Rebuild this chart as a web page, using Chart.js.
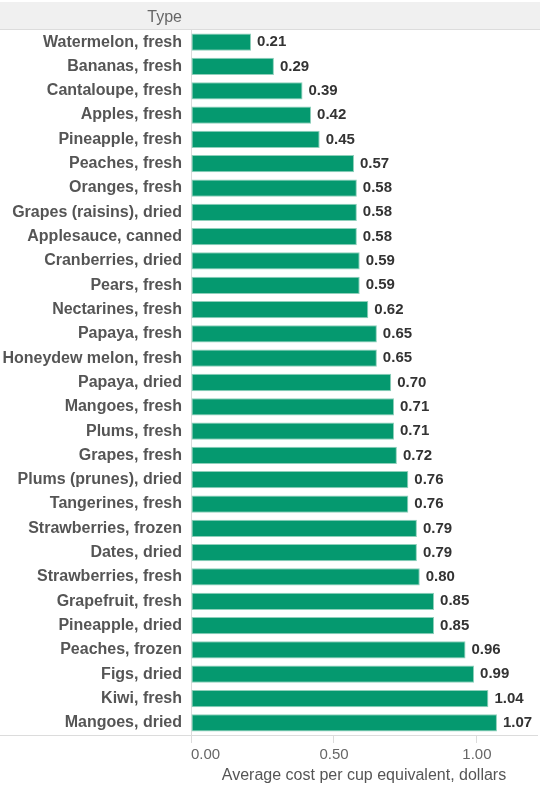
<!DOCTYPE html>
<html>
<head>
<meta charset="utf-8">
<script src="https://cdn.jsdelivr.net/npm/chart.js@4.4.1/dist/chart.umd.min.js"></script>
<style>
  html, body { margin: 0; padding: 0; background: #fff; }
  #chart-container { width: 540px; height: 785px; }
</style>
</head>
<body>
<div id="chart-container"><canvas id="fruit-canvas" width="540" height="785"></canvas></div>
<script>
'use strict';

var fruitTypes = [
  'Watermelon, fresh', 'Bananas, fresh', 'Cantaloupe, fresh', 'Apples, fresh',
  'Pineapple, fresh', 'Peaches, fresh', 'Oranges, fresh', 'Grapes (raisins), dried',
  'Applesauce, canned', 'Cranberries, dried', 'Pears, fresh', 'Nectarines, fresh',
  'Papaya, fresh', 'Honeydew melon, fresh', 'Papaya, dried', 'Mangoes, fresh',
  'Plums, fresh', 'Grapes, fresh', 'Plums (prunes), dried', 'Tangerines, fresh',
  'Strawberries, frozen', 'Dates, dried', 'Strawberries, fresh', 'Grapefruit, fresh',
  'Pineapple, dried', 'Peaches, frozen', 'Figs, dried', 'Kiwi, fresh', 'Mangoes, dried'
];
var costPerCup = [
  0.21, 0.29, 0.39, 0.42, 0.45, 0.57, 0.58, 0.58, 0.58, 0.59, 0.59, 0.62, 0.65, 0.65,
  0.70, 0.71, 0.71, 0.72, 0.76, 0.76, 0.79, 0.79, 0.80, 0.85, 0.85, 0.96, 0.99, 1.04, 1.07
];
var xTickValues = [0, 0.5, 1];
var xMax = 1.21;
var xAxisTitle = 'Average cost per cup equivalent, dollars';
var headerText = 'Type';

var fontFamily = '"Liberation Sans", Arial, sans-serif';
var lineColor = '#dcdcdc';

// gray header band with "Type" and the extra lines Tableau draws
var headerPlugin = {
  id: 'header',
  beforeDraw: function(chart) {
    var ctx = chart.ctx;
    var area = chart.chartArea;
    ctx.save();
    ctx.fillStyle = '#f0f0f0';
    ctx.fillRect(0, 2, chart.width, area.top - 2);
    ctx.strokeStyle = lineColor;
    ctx.lineWidth = 1;
    ctx.beginPath();
    ctx.moveTo(0, area.top - 0.5);
    ctx.lineTo(chart.width, area.top - 0.5);
    ctx.moveTo(0, area.bottom + 0.5);
    ctx.lineTo(area.left, area.bottom + 0.5);
    ctx.stroke();
    ctx.fillStyle = '#666';
    ctx.font = '16px ' + fontFamily;
    ctx.textAlign = 'right';
    ctx.textBaseline = 'middle';
    ctx.fillText(headerText, area.left - 9, 18);
    ctx.restore();
  }
};

// value labels at the end of each bar
var valueLabelPlugin = {
  id: 'valueLabels',
  afterDatasetsDraw: function(chart) {
    var ctx = chart.ctx;
    var meta = chart.getDatasetMeta(0);
    ctx.save();
    ctx.fillStyle = '#333';
    ctx.font = 'bold 15px ' + fontFamily;
    ctx.textAlign = 'left';
    ctx.textBaseline = 'middle';
    for (var i = 0; i < meta.data.length; i++) {
      var bar = meta.data[i];
      ctx.fillText(costPerCup[i].toFixed(2), bar.x + 6, bar.y);
    }
    ctx.restore();
  }
};

var canvasEl = document.getElementById('fruit-canvas').getContext('2d');

var fruitData = {
  labels: fruitTypes,
  datasets: [{
    label: 'Average cost',
    data: costPerCup,
    backgroundColor: '#05996f',
    borderColor: '#8fd0bb',
    borderWidth: 1,
    borderSkipped: false,
    barPercentage: 0.71,
    categoryPercentage: 1
  }]
};

var fruitChart = new Chart(canvasEl, {
  type: 'bar',
  data: fruitData,
  plugins: [headerPlugin, valueLabelPlugin],
  options: {
    indexAxis: 'y',
    responsive: false,
    animation: false,
    layout: { padding: { top: 30, right: 0, bottom: 0, left: 0 } },
    plugins: {
      legend: { display: false },
      tooltip: { enabled: false }
    },
    scales: {
      x: {
        min: 0,
        max: xMax,
        // extra blank tick at the right edge so 'inner' only pushes 0.00 inward
        afterBuildTicks: function(axis) {
          axis.ticks = xTickValues.concat([xMax]).map(function(v) { return { value: v }; });
        },
        afterFit: function(axis) { axis.height = 50; },
        grid: {
          drawOnChartArea: false,
          drawTicks: true,
          tickLength: 8,
          tickColor: function(context) {
            return context.index < xTickValues.length ? lineColor : 'rgba(0,0,0,0)';
          }
        },
        border: { display: true, color: lineColor },
        ticks: {
          color: '#666',
          padding: 3,
          align: 'inner',
          autoSkip: false,
          font: { size: 15, family: fontFamily },
          maxRotation: 0,
          callback: function(value, index) {
            return index < xTickValues.length ? Number(value).toFixed(2) : '';
          }
        },
        title: {
          display: true,
          text: xAxisTitle,
          color: '#555',
          padding: { top: 7, bottom: 0 },
          font: { size: 16, family: fontFamily }
        }
      },
      y: {
        afterFit: function(axis) { axis.width = 191; },
        grid: { display: false, drawTicks: false },
        border: { display: true, color: lineColor },
        ticks: {
          color: '#555',
          padding: 9,
          autoSkip: false,
          font: { size: 16, weight: 'bold', family: fontFamily }
        }
      }
    }
  }
});
</script>
</body>
</html>
